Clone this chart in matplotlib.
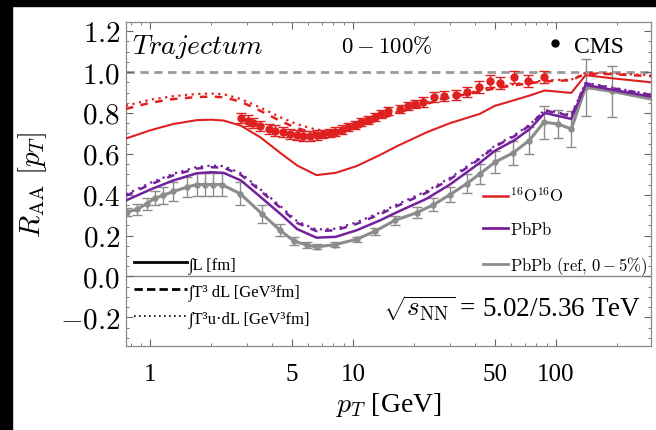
import matplotlib
matplotlib.use("Agg")
import matplotlib.pyplot as plt
from matplotlib.lines import Line2D
from matplotlib.patches import Rectangle
from matplotlib.ticker import LogLocator, NullFormatter, FuncFormatter, MultipleLocator

plt.rcParams['font.family'] = ['Liberation Serif', 'DejaVu Serif']
plt.rcParams['mathtext.fontset'] = 'cm'

# theory curves (Trajectum), pT in GeV
theory_pt = [0.76, 1.0, 1.3, 1.7, 2.0, 2.3, 2.8, 3.5, 4.4, 5.3, 6.6, 8.2, 10.4, 13.6,
             16.5, 23, 30, 42, 50, 62, 74, 88, 119, 140, 188, 294]
oo_L = [0.675, 0.715, 0.746, 0.765, 0.767, 0.763, 0.738, 0.68, 0.603, 0.543, 0.496, 0.507,
        0.54, 0.595, 0.638, 0.705, 0.75, 0.795, 0.835, 0.862, 0.885, 0.91, 0.898, 0.985,
        0.97, 0.95]
oo_T3 = [0.82, 0.85, 0.868, 0.878, 0.88, 0.877, 0.855, 0.81, 0.76, 0.725, 0.70, 0.70, 0.725,
         0.77, 0.80, 0.845, 0.875, 0.905, 0.92, 0.935, 0.945, 0.955, 0.96, 0.993, 0.99, 0.98]
oo_T3u = [0.835, 0.865, 0.882, 0.893, 0.895, 0.892, 0.868, 0.826, 0.778, 0.745, 0.718, 0.713,
          0.733, 0.775, 0.805, 0.85, 0.88, 0.91, 0.925, 0.94, 0.95, 0.96, 0.963, 0.997, 0.993,
          0.985]
pb_L = [0.372, 0.425, 0.47, 0.505, 0.51, 0.507, 0.47, 0.389, 0.305, 0.232, 0.19, 0.194, 0.226,
        0.275, 0.315, 0.38, 0.45, 0.555, 0.615, 0.665, 0.72, 0.80, 0.771, 0.937, 0.914, 0.88]
pb_T3 = [0.395, 0.45, 0.495, 0.528, 0.535, 0.532, 0.497, 0.418, 0.335, 0.262, 0.222, 0.226,
         0.257, 0.305, 0.345, 0.41, 0.475, 0.575, 0.635, 0.685, 0.738, 0.812, 0.785, 0.945,
         0.922, 0.888]
pb_T3u = [0.402, 0.458, 0.503, 0.536, 0.543, 0.54, 0.505, 0.426, 0.343, 0.27, 0.23, 0.234,
          0.265, 0.313, 0.353, 0.418, 0.482, 0.58, 0.64, 0.69, 0.742, 0.815, 0.79, 0.948,
          0.925, 0.89]

# PbPb reference (0-5%) curve
ref_pt = [0.76, 0.86, 0.96, 1.06, 1.16, 1.30, 1.52, 1.70, 1.87, 2.05, 2.25, 2.78, 3.55, 4.37,
          5.09, 5.92, 6.62, 8.15, 10.4, 12.8, 16.1, 20.6, 24.9, 30.0, 36.3, 42.1, 50.0, 61.5,
          73.7, 87.3, 102, 119, 140, 188, 294]
ref_raa = [0.314, 0.328, 0.356, 0.384, 0.397, 0.416, 0.437, 0.45, 0.45, 0.45, 0.45, 0.405,
           0.307, 0.226, 0.175, 0.153, 0.145, 0.156, 0.182, 0.221, 0.275, 0.312, 0.351, 0.40,
           0.454, 0.502, 0.559, 0.605, 0.665, 0.755, 0.746, 0.722, 0.925, 0.906, 0.868]

# CMS PbPb 0-5% data
pbdata_pt = [0.77, 0.86, 0.96, 1.06, 1.16, 1.30, 1.52, 1.70, 1.87, 2.05, 2.25, 2.78, 3.55,
             4.37, 5.09, 5.92, 6.62, 8.15, 10.4, 12.8, 16.1, 20.6, 24.9, 30.0, 36.3, 42.1,
             50.0, 61.5, 73.7, 87.3, 102, 119, 140, 188]
pbdata_raa = [0.316, 0.328, 0.356, 0.384, 0.397, 0.416, 0.437, 0.45, 0.45, 0.45, 0.45, 0.405,
              0.307, 0.226, 0.175, 0.153, 0.145, 0.156, 0.182, 0.221, 0.275, 0.312, 0.351,
              0.40, 0.454, 0.502, 0.559, 0.605, 0.665, 0.755, 0.746, 0.722, 0.925, 0.906]
pbdata_err = [0.02, 0.025, 0.03, 0.035, 0.04, 0.045, 0.05, 0.055, 0.055, 0.055, 0.055, 0.055,
              0.045, 0.03, 0.02, 0.015, 0.012, 0.012, 0.013, 0.017, 0.022, 0.028, 0.033,
              0.038, 0.045, 0.05, 0.055, 0.06, 0.065, 0.08, 0.07, 0.09, 0.14, 0.125]

# CMS OO data
oodata_pt = [2.81, 3.05, 3.23, 3.48, 3.83, 4.13, 4.54, 4.89, 5.28, 5.69, 6.14, 6.62, 7.14,
             7.70, 8.15, 8.8, 9.48, 10.2, 11.0, 11.9, 12.8, 13.8, 14.9, 17.0, 18.7, 20.2,
             22.1, 25.0, 28.1, 32.2, 36.4, 41.7, 47.2, 52.8, 62.0, 73.0, 87.4]
oodata_raa = [0.774, 0.763, 0.751, 0.738, 0.722, 0.714, 0.706, 0.698, 0.693, 0.689, 0.689,
              0.693, 0.698, 0.702, 0.709, 0.719, 0.730, 0.741, 0.754, 0.767, 0.779, 0.795,
              0.811, 0.82, 0.834, 0.844, 0.853, 0.878, 0.883, 0.888, 0.902, 0.927, 0.956,
              0.946, 0.976, 0.956, 0.976]
oodata_err = [0.025] * 12 + [0.02] * 14 + [0.025] * 5 + [0.03] * 6

red = '#df2020'
purple = '#74229c'
gray = '#8c8c8c'

fig = plt.figure(figsize=(6.56, 4.31), dpi=100)
ax = fig.add_axes([126 / 656, 1 - 347 / 431, 525 / 656, 324 / 431])

ax.axhline(1.0, color='#9a9a9a', lw=2, ls=(0, (3, 2)), zorder=1)
ax.axhline(0.0, color='#8a8a8a', lw=1, zorder=1)

ax.plot(ref_pt, ref_raa, color=gray, lw=2.2, zorder=3)
ax.errorbar(pbdata_pt, pbdata_raa, yerr=pbdata_err, fmt='o', color=gray, ms=3.6,
            elinewidth=1, capsize=3.5, capthick=1, zorder=3)

ax.plot(theory_pt, pb_L, color=purple, lw=1.8, zorder=4)
ax.plot(theory_pt, pb_T3, color=purple, lw=1.8, ls=(0, (3, 3)), zorder=4)
ax.plot(theory_pt, pb_T3u, color=purple, lw=1.6, ls=(0, (1, 2)), zorder=4)

ax.plot(theory_pt, oo_L, color=red, lw=1.5, zorder=4)
ax.plot(theory_pt, oo_T3, color=red, lw=1.8, ls=(0, (3, 3)), zorder=4)
ax.plot(theory_pt, oo_T3u, color=red, lw=1.6, ls=(0, (1, 2)), zorder=4)
ax.errorbar(oodata_pt, oodata_raa, yerr=oodata_err, fmt='o', color=red, ms=5,
            elinewidth=1, capsize=3.5, capthick=1, zorder=5)

ax.set_xscale('log')
ax.set_xlim(0.76, 294)
ax.set_ylim(-0.34, 1.245)

ax.set_xticks([1, 5, 10, 50, 100])
ax.set_xticklabels(['1', '5', '10', '50', '100'])
ax.xaxis.set_minor_locator(LogLocator(base=10, subs=range(1, 10), numticks=20))
ax.xaxis.set_minor_formatter(NullFormatter())
ax.yaxis.set_major_locator(MultipleLocator(0.2))
ax.yaxis.set_minor_locator(MultipleLocator(0.05))
ax.yaxis.set_major_formatter(FuncFormatter(lambda v, p: r'$%.1f$' % v))

ax.tick_params(which='both', direction='in', top=True, right=True, color='#666666')
ax.tick_params(which='major', length=5, width=0.8)
ax.tick_params(which='minor', length=2.5, width=0.6)
ax.tick_params(axis='y', labelsize=21, pad=4)
ax.tick_params(axis='x', labelsize=18, pad=12)
for s in ax.spines.values():
    s.set_color('#8a8a8a')
    s.set_linewidth(0.9)

ax.set_xlabel(r'$p_T$ [GeV]', fontsize=20, labelpad=4)
ax.set_ylabel(r'$R_{\mathrm{AA}}\ [p_T]$', fontsize=21, labelpad=8)

ax.text(0.011, 0.926, r'$\mathit{Trajectum}$', transform=ax.transAxes, fontsize=20,
        ha='left', va='center')
ax.text(0.41, 0.926, r'$0-100\%$', transform=ax.transAxes, fontsize=16.5,
        ha='left', va='center')
ax.text(0.981, 0.12, r'$\sqrt{s_{\mathrm{NN}}}$ = 5.02/5.36 TeV', transform=ax.transAxes,
        fontsize=19.5, ha='right', va='center')

# legends
cms_leg = ax.legend(handles=[Line2D([], [], marker='o', ls='none', color='black', ms=5)],
                    labels=['CMS'], loc='center left', bbox_to_anchor=(0.80, 0.926),
                    frameon=False, fontsize=17, handlelength=0.8, handletextpad=0.4,
                    borderpad=0, borderaxespad=0)
ax.add_artist(cms_leg)

style_handles = [Line2D([], [], color='black', lw=2),
                 Line2D([], [], color='black', lw=2, ls=(0, (3, 1.5))),
                 Line2D([], [], color='black', lw=1.2, ls=(0, (1, 2)))]
style_labels = ['∫L [fm]', '∫T³ dL [GeV³fm]', '∫T³u·dL [GeV³fm]']
style_leg = ax.legend(style_handles, style_labels, loc='upper left',
                      bbox_to_anchor=(0.015, 0.278), frameon=False, fontsize=12,
                      handlelength=3.2, handletextpad=0.1, labelspacing=0.6,
                      borderpad=0, borderaxespad=0)
ax.add_artist(style_leg)

sys_handles = [Line2D([], [], color=red, lw=1.8),
               Line2D([], [], color=purple, lw=2),
               Line2D([], [], color=gray, lw=2)]
sys_labels = [r'$^{16}\mathrm{O}^{16}\mathrm{O}$', r'$\mathrm{PbPb}$',
              r'$\mathrm{PbPb\,\,(ref,\,0-5\%)}$']
ax.legend(sys_handles, sys_labels, loc='upper left', bbox_to_anchor=(0.68, 0.492),
          frameon=False, fontsize=12, handlelength=1.5, handletextpad=0.15,
          labelspacing=0.95, borderpad=0, borderaxespad=0)

# black border strips of the original screenshot
fig.add_artist(Rectangle((0, 1 - 7 / 431), 1, 7 / 431, transform=fig.transFigure,
                         color='black', zorder=10))
fig.add_artist(Rectangle((0, 0), 12 / 656, 1, transform=fig.transFigure,
                         color='black', zorder=10))

fig.savefig('out.png', dpi=100)
